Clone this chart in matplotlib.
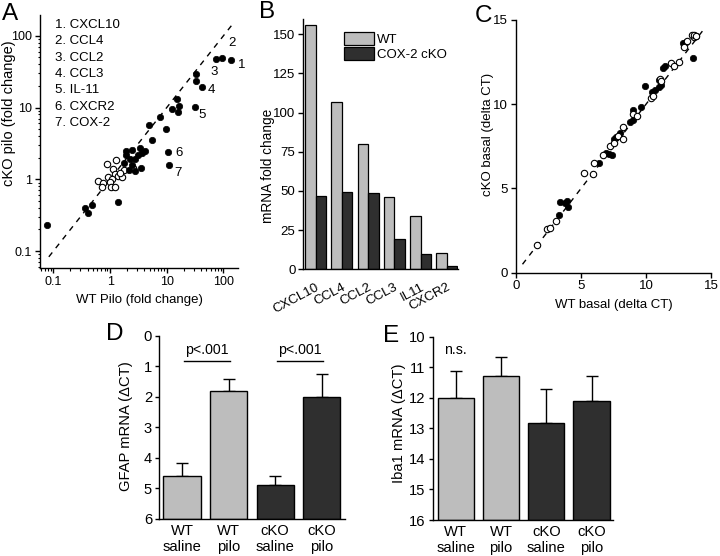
import matplotlib
matplotlib.use("Agg")
import matplotlib.pyplot as plt
from matplotlib.patches import Patch
from matplotlib.ticker import FixedLocator, FixedFormatter, NullFormatter, LogLocator

plt.rcParams['font.family'] = ['Liberation Sans', 'DejaVu Sans']
plt.rcParams['axes.linewidth'] = 1.0
plt.rcParams['xtick.major.width'] = 1.0
plt.rcParams['ytick.major.width'] = 1.0
plt.rcParams['xtick.minor.width'] = 0.8
plt.rcParams['ytick.minor.width'] = 0.8

W, H = 720, 556
fig = plt.figure(figsize=(W / 100, H / 100), dpi=100)

def add_ax(l, t, r, b):
    return fig.add_axes([l / W, 1 - b / H, (r - l) / W, (b - t) / H])

def fx(px):
    return px / W

def fy(py):
    return 1 - py / H

LIGHT = '#bdbdbd'
DARK = '#2f2f2f'

# ---------------- data ----------------
# Panel A
a_filled_x = [0.076, 0.36, 0.40, 0.48, 1.4, 1.9, 1.9, 2.4, 3.4, 3.6, 4.1, 3.1, 2.75, 2.25,
              1.78, 2.4, 2.2, 2.75, 3.5, 5.6, 4.9, 7.7, 9.6, 12.4, 15.4, 16.4, 15.8,
              10.5, 11.1, 31.4, 41.6, 33, 33, 74, 93, 135]
a_filled_y = [0.23, 0.40, 0.34, 0.44, 0.48, 2.47, 2.2, 2.6, 2.7, 2.35, 2.47, 2.2, 1.9, 1.9,
              1.7, 1.6, 1.33, 1.3, 1.42, 3.5, 5.75, 7.3, 5.1, 9.4, 13.3, 10.6, 8.6,
              2.4, 1.58, 10.1, 19.6, 29.6, 23.7, 48, 49, 46]
a_open_x = [0.875, 1.27, 1.78, 2.56, 1.14, 0.91, 1.22, 1.4, 1.1, 1.6, 0.62, 0.76, 1.0,
            0.71, 1.04, 1.22, 1.5]
a_open_y = [1.65, 1.84, 1.35, 1.42, 1.38, 1.09, 1.17, 1.11, 1.0, 1.09, 0.95, 0.90, 0.93,
            0.77, 0.78, 0.78, 1.24]
a_genes = ['CXCL10', 'CCL4', 'CCL2', 'CCL3', 'IL-11', 'CXCR2', 'COX-2']
a_gene_x = [135, 93, 74, 41.6, 31.4, 10.5, 11.1]
a_gene_y = [46, 49, 48, 19.6, 10.1, 2.4, 1.58]
a_label_offsets = [(7.7, -3.4), (7.7, 11), (-1.2, -9.4), (7, -2.2), (5.5, -5.3), (8.1, -0.5), (6, -6)]

# Panel B
b_genes = ['CXCL10', 'CCL4', 'CCL2', 'CCL3', 'IL11', 'CXCR2']
b_wt = [156, 106.5, 80, 46, 34.3, 10.2]
b_cko = [46.7, 49.6, 48.6, 19.6, 9.7, 2.1]

# Panel C
c_open_x = [1.6, 2.42, 2.59, 3.04, 5.24, 5.91, 6.03, 6.73, 7.23, 7.53, 7.83, 8.2, 8.23, 9.03,
            9.28, 10.35, 10.52, 11.07, 11.17, 11.9, 12.14, 12.57, 12.92, 13.19, 13.57, 13.72,
            13.67, 13.85]
c_open_y = [1.64, 2.57, 2.65, 3.09, 5.94, 5.86, 6.5, 6.99, 7.52, 7.68, 8.12, 7.92, 8.67, 9.43,
            9.31, 10.36, 10.5, 11.49, 11.35, 12.44, 12.24, 12.53, 13.39, 13.78, 14.08, 13.98,
            14.12, 14.05]
c_filled_x = [3.29, 3.42, 3.79, 3.99, 3.92, 6.41, 6.96, 7.16, 7.4, 7.53, 7.73, 8.03, 8.78, 8.98,
              9.03, 9.65, 9.9, 10.47, 10.7, 10.97, 11.02, 11.15, 11.32, 11.47, 12.84, 13.09,
              13.64, 13.72, 13.82]
c_filled_y = [3.43, 4.18, 4.16, 3.88, 4.24, 6.53, 7.13, 7.05, 6.99, 7.92, 8.08, 8.32, 8.97, 9.07,
              9.66, 9.86, 11.09, 10.75, 10.85, 11.01, 11.45, 11.15, 12.14, 12.24, 13.66, 13.72,
              12.73, 14.06, 14.06]

# Panels D and E
de_groups = ['WT\nsaline', 'WT\npilo', 'cKO\nsaline', 'cKO\npilo']
de_colors = [LIGHT, LIGHT, DARK, DARK]
d_mean = [4.59, 1.81, 4.89, 2.0]
d_err_end = [4.16, 1.43, 4.59, 1.25]
e_mean = [12.0, 11.28, 12.82, 12.09]
e_err_end = [11.11, 10.65, 11.71, 11.28]

FS = 9.5
FS2 = 10.6

def style(ax, fs=FS):
    for s in ('top', 'right'):
        ax.spines[s].set_visible(False)
    ax.tick_params(direction='out', length=3.6, width=1.0, labelsize=fs, pad=2)

# ---------------- Panel A ----------------
axA = add_ax(40, 15, 238, 268)
style(axA)
axA.set_xscale('log')
axA.set_yscale('log')
axA.set_xlim(0.058, 181)
axA.set_ylim(0.058, 195)
axA.plot([0.083, 140], [0.083, 140], color='black', lw=1.0, ls=(0, (4, 4)), zorder=1)
axA.plot(a_open_x, a_open_y, 'o', ms=4.6, mfc='white', mec='black', mew=0.8, zorder=2)
axA.plot(a_filled_x, a_filled_y, 'o', ms=4.6, mfc='black', mec='black', mew=0.5, zorder=3)
for t in (axA.xaxis, axA.yaxis):
    t.set_major_locator(FixedLocator([0.1, 1, 10, 100]))
    t.set_major_formatter(FixedFormatter(['0.1', '1', '10', '100']))
    t.set_minor_locator(LogLocator(base=10, subs=range(2, 10)))
    t.set_minor_formatter(NullFormatter())
axA.tick_params(which='minor', direction='out', length=1.8)
axA.tick_params(which='major', labelsize=9)
for i, (gx, gy, off) in enumerate(zip(a_gene_x, a_gene_y, a_label_offsets)):
    axA.annotate(str(i + 1), xy=(gx, gy), xytext=off, textcoords='offset points',
                 ha='center', va='center', fontsize=FS, annotation_clip=False)
for i, g in enumerate(a_genes):
    fig.text(fx(55), fy(25 + i * 16.35), f'{i + 1}. {g}', fontsize=FS, ha='left', va='center')
fig.text(fx(9), fy(113), 'cKO pilo (fold change)', rotation=90, ha='center', va='center', fontsize=10.5)
fig.text(fx(139), fy(300), 'WT Pilo (fold change)', ha='center', va='center', fontsize=FS)

# ---------------- Panel B ----------------
axB = add_ax(303.3, 18.5, 458, 269.3)
style(axB)
xb = list(range(len(b_genes)))
axB.bar([x - 0.2 for x in xb], b_wt, width=0.4, color=LIGHT, edgecolor='black', lw=0.9)
axB.bar([x + 0.2 for x in xb], b_cko, width=0.4, color=DARK, edgecolor='black', lw=0.9)
axB.set_xlim(-0.465, 5.42)
axB.set_ylim(0, 160)
axB.set_yticks([0, 25, 50, 75, 100, 125, 150])
axB.set_xticks(xb)
axB.set_xticklabels(b_genes, rotation=28, ha='right', va='top', rotation_mode='anchor')
axB.tick_params(axis='x', length=0, pad=8.5)
axB.legend(handles=[Patch(facecolor=LIGHT, edgecolor='black', lw=0.9, label='WT'),
                    Patch(facecolor=DARK, edgecolor='black', lw=0.9, label='COX-2 cKO')],
           loc='upper left', bbox_to_anchor=(fx(344.3), fy(31.7)), bbox_transform=fig.transFigure,
           frameon=False, borderpad=0, borderaxespad=0, handlelength=2.27, handleheight=1.14,
           labelspacing=0.12, handletextpad=0.2, fontsize=FS)
fig.text(fx(267.7), fy(166), 'mRNA fold change', rotation=90, ha='center', va='center', fontsize=9.8)

# ---------------- Panel C ----------------
axC = add_ax(516, 20, 711, 272.7)
style(axC)
axC.set_xlim(0, 15)
axC.set_ylim(0, 15)
axC.set_xticks([0, 5, 10, 15])
axC.set_yticks([0, 5, 10, 15])
axC.plot([0.5, 14.5], [0.5, 14.5], color='black', lw=1.0, ls=(0, (4, 4)), zorder=1)
axC.plot(c_filled_x, c_filled_y, 'o', ms=4.6, mfc='black', mec='black', mew=0.5, zorder=2,
         clip_on=False)
axC.plot(c_open_x, c_open_y, 'o', ms=4.6, mfc='white', mec='black', mew=0.8, zorder=3,
         clip_on=False)
fig.text(fx(488.3), fy(134), 'cKO basal (delta CT)', rotation=90, ha='center', va='center', fontsize=FS)
fig.text(fx(614), fy(305), 'WT basal (delta CT)', ha='center', va='center', fontsize=FS)

# ---------------- Panels D and E ----------------
def bar_panel(ax, means, ends, base, top):
    style(ax, FS2)
    xs = list(range(len(means)))
    ax.bar(xs, [m - base for m in means], bottom=base, width=0.8, color=de_colors,
           edgecolor='black', lw=1.0, zorder=2)
    ax.errorbar(xs, means, yerr=[[m - e for m, e in zip(means, ends)], [0] * len(means)],
                fmt='none', ecolor='black', elinewidth=1.0, capsize=4.5, capthick=1.0, zorder=1)
    ax.set_ylim(base, top)
    ax.set_yticks(list(range(int(top), int(base) + 1)))
    ax.set_xticks(xs)
    ax.set_xticklabels(de_groups, fontsize=FS2, linespacing=1.15)
    ax.tick_params(axis='x', length=0, pad=3.5)
    ax.tick_params(axis='y', length=3.2)

axD = add_ax(159.3, 335.7, 345, 519)
bar_panel(axD, d_mean, d_err_end, 6, 0)
axD.set_xlim(-0.49, 3.5)
for x0 in (0, 2):
    axD.plot([x0 + 0.04, x0 + 1.03], [0.82, 0.82], color='black', lw=1.0)
    axD.text(x0 + 0.53, 0.70, 'p<.001', ha='center', va='bottom', fontsize=10.2)
fig.text(fx(126), fy(425.8), 'GFAP mRNA (\u0394CT)', rotation=90, ha='center', va='center', fontsize=FS2)

axE = add_ax(432.7, 336.7, 613.3, 520)
bar_panel(axE, e_mean, e_err_end, 16, 10)
axE.set_xlim(-0.51, 3.48)
axE.text(0, 10.45, 'n.s.', ha='center', va='center', fontsize=10.2)
fig.text(fx(399.3), fy(422.8), 'Iba1 mRNA (\u0394CT)', rotation=90, ha='center', va='center', fontsize=FS2)

# ---------------- panel letters ----------------
for letter, px, py in [('A', 2, 20), ('B', 259, 18), ('C', 475, 22), ('D', 106, 340), ('E', 383, 342)]:
    fig.text(fx(px), fy(py), letter, fontsize=17.5, ha='left', va='baseline')

fig.savefig('out.png', dpi=100)
